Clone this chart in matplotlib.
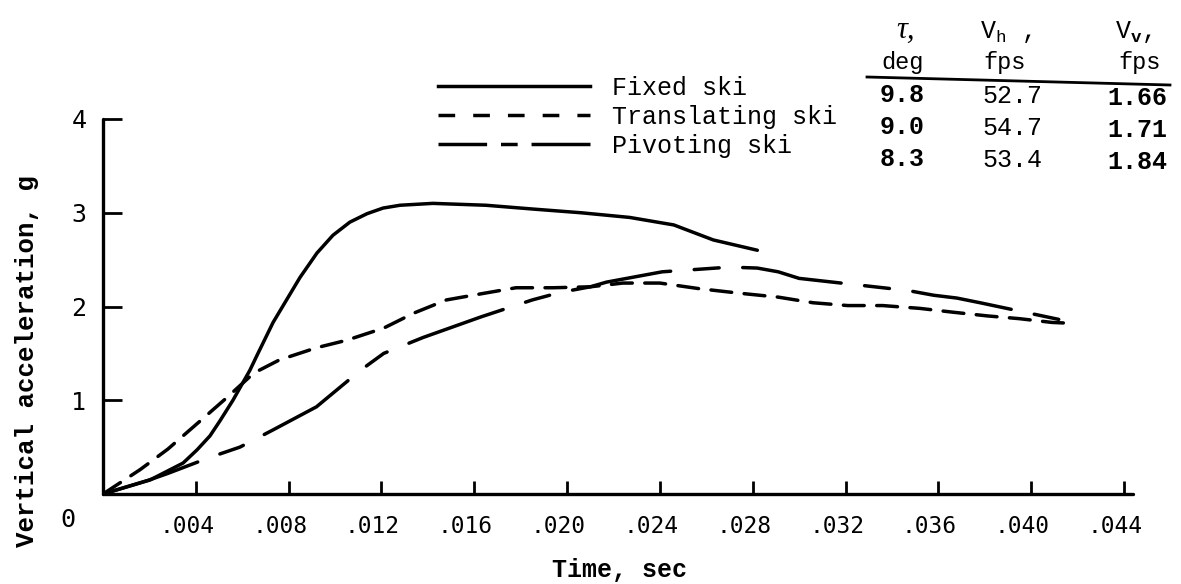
import matplotlib
matplotlib.use("Agg")
import matplotlib.pyplot as plt
from matplotlib.lines import Line2D
from matplotlib.transforms import ScaledTranslation

# ---------------- data ----------------
fixed_t = [0.0, 0.00203, 0.00345, 0.00405, 0.00461, 0.00504, 0.0056, 0.00633, 0.00664,
           0.00733, 0.00849, 0.00922, 0.00991, 0.01064, 0.01138, 0.01207, 0.0128,
           0.01422, 0.0165, 0.0185, 0.0206, 0.0227, 0.0246, 0.0263, 0.0282]
fixed_g = [0.0, 0.15, 0.33, 0.47, 0.62, 0.78, 1.00, 1.32, 1.48,
           1.83, 2.31, 2.57, 2.76, 2.90, 2.99, 3.05, 3.08,
           3.10, 3.08, 3.04, 3.00, 2.95, 2.87, 2.71, 2.60]

trans_t = [0.0, 0.0016, 0.0028, 0.0041, 0.0053, 0.0065, 0.0076, 0.0092, 0.0105,
           0.0121, 0.0134, 0.0148, 0.0164, 0.0178, 0.0194, 0.0210, 0.0224,
           0.0240, 0.0257, 0.0275, 0.0291, 0.0306, 0.0321, 0.0336, 0.0352,
           0.0366, 0.0381, 0.0395, 0.0409, 0.0418]
trans_g = [0.0, 0.26, 0.48, 0.76, 1.02, 1.29, 1.43, 1.56, 1.64,
           1.77, 1.93, 2.07, 2.14, 2.20, 2.20, 2.21, 2.25,
           2.25, 2.19, 2.14, 2.10, 2.04, 2.01, 2.01, 1.98,
           1.94, 1.90, 1.87, 1.83, 1.82]

pivot_t = [0.0, 0.0020, 0.0028, 0.0046, 0.0059, 0.0073, 0.0092, 0.0111, 0.0121,
           0.0138, 0.0163, 0.0185, 0.0197, 0.0210, 0.0217, 0.0241, 0.0270,
           0.0282, 0.0291, 0.0300, 0.0347, 0.0358, 0.0368, 0.0378, 0.0420]
pivot_g = [0.0, 0.15, 0.22, 0.39, 0.50, 0.68, 0.93, 1.32, 1.50,
           1.67, 1.89, 2.07, 2.15, 2.21, 2.26, 2.37, 2.42,
           2.41, 2.37, 2.30, 2.17, 2.12, 2.09, 2.04, 1.82]

series_labels = ["Fixed ski", "Translating ski", "Pivoting ski"]

x_ticks = [0.004, 0.008, 0.012, 0.016, 0.020, 0.024, 0.028, 0.032, 0.036, 0.040, 0.044]
x_tick_labels = [".004", ".008", ".012", ".016", ".020", ".024", ".028", ".032",
                 ".036", ".040", ".044"]
y_ticks = [1, 2, 3, 4]
y_tick_labels = ["1", "2", "3", "4"]

tau_vals = ["9.8", "9.0", "8.3"]
vh_vals = ["52.7", "54.7", "53.4"]
vv_vals = ["1.66", "1.71", "1.84"]

# ---------------- style ----------------
MONO = "Liberation Mono"
plt.rcParams["font.family"] = [MONO, "DejaVu Sans"]
plt.rcParams["mathtext.fontset"] = "custom"
plt.rcParams["mathtext.rm"] = MONO
plt.rcParams["mathtext.it"] = MONO + ":italic"
plt.rcParams["mathtext.bf"] = MONO + ":bold"
plt.rcParams["lines.scale_dashes"] = False

W, H = 1181, 584
fig = plt.figure(figsize=(W / 100, H / 100), dpi=100)
ax = fig.add_axes([103 / W, (H - 494) / H, 1030 / W, 375 / H])

LW = 2.5
ax.plot(fixed_t, fixed_g, color="black", lw=LW, solid_capstyle="round",
        solid_joinstyle="round")
ax.plot(trans_t, trans_g, color="black", lw=LW, linestyle=(0, (15, 9)),
        dash_capstyle="round", dash_joinstyle="round")
ax.plot(pivot_t, pivot_g, color="black", lw=LW, linestyle=(0, (72, 17, 18, 17)),
        dash_capstyle="round", dash_joinstyle="round")

ax.set_xlim(0, 0.04439)
ax.set_ylim(0, 4.0)
for s in ["top", "right"]:
    ax.spines[s].set_visible(False)
for s in ["left", "bottom"]:
    ax.spines[s].set_linewidth(2.4)
    ax.spines[s].set_capstyle("round")

TICKFONT = ["DejaVu Sans Mono"]
ax.set_xticks(x_ticks)
ax.set_xticklabels(x_tick_labels, fontsize=16.5, family=TICKFONT)
ax.set_yticks(y_ticks)
ax.set_yticklabels(y_tick_labels, fontsize=18, family=TICKFONT)
ax.tick_params(axis="x", direction="in", length=9.5, width=2.0, pad=15)
ax.tick_params(axis="y", direction="in", length=13.5, width=2.0, pad=12)
offset = ScaledTranslation(-9 / 100, 0, fig.dpi_scale_trans)
for lab in ax.get_xticklabels():
    lab.set_transform(lab.get_transform() + offset)

# origin label "0"
ax.text(-35 / 23205, -(520 - 494) / 93.75, "0", fontsize=18, family=TICKFONT,
        ha="center", va="center")

ax.set_xlabel("Time, sec", fontsize=18, fontweight="bold", va="center", ha="center")
ax.xaxis.set_label_coords((620 - 103) / 1030, (494 - 570) / 375)
ax.set_ylabel("Vertical acceleration, g", fontsize=18.5, fontweight="bold",
              va="center", ha="center")
ax.yaxis.set_label_coords((27 - 103) / 1030, (494 - 361) / 375)

# legend (proxy handles with the legend's drawn dash patterns)
handles = [
    Line2D([], [], color="black", lw=LW),
    Line2D([], [], color="black", lw=LW, linestyle=(0, (12, 13))),
    Line2D([], [], color="black", lw=LW, linestyle=(0, (35, 10, 12, 10, 45, 10))),
]
fig.legend(handles, series_labels, loc="center left",
           bbox_to_anchor=(438 / W, 1 - 116.7 / H), frameon=False,
           fontsize=18, handlelength=6.08, handletextpad=0.88,
           labelspacing=0.2, borderpad=0, borderaxespad=0)

# parameter table
def ftxt(x, y, s, **kw):
    fig.text(x / W, 1 - y / H, s, ha="center", va="center", **kw)

ftxt(906, 30, "τ,", fontsize=22, style="italic", family=["Liberation Serif", "DejaVu Serif"])
ftxt(1006, 32, r"V$_{\mathrm{h}}$ ,", fontsize=18)
ftxt(1133, 32, r"V$_{\mathbf{v}}$,", fontsize=18)
ftxt(903, 62, "deg", fontsize=17)
ftxt(1005, 62, "fps", fontsize=17)
ftxt(1140, 62, "fps", fontsize=17)
fig.add_artist(Line2D([867 / W, 1170 / W], [1 - 77 / H, 1 - 85 / H],
                      transform=fig.transFigure, color="black", lw=2.0))
row_y = [95, 127, 159]
for i in range(3):
    ftxt(902, row_y[i], tau_vals[i], fontsize=18, fontweight="bold")
    ftxt(1012, row_y[i] + 1, vh_vals[i], fontsize=18)
    ftxt(1137, row_y[i] + 3, vv_vals[i], fontsize=18, fontweight="bold")

fig.savefig("out.png", dpi=100)
